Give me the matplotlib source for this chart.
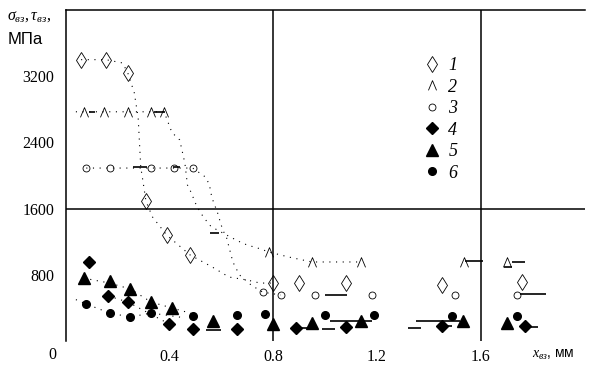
import numpy as np
import matplotlib.pyplot as plt
from matplotlib.path import Path

plt.rcParams['mathtext.fontset'] = 'custom'
plt.rcParams['mathtext.rm'] = 'Liberation Serif'
plt.rcParams['mathtext.it'] = 'Liberation Serif:italic'

# --- серия 1-3 (светлые маркеры): точки и пунктирные кривые ---
s1_x = [0.06, 0.155, 0.24, 0.31, 0.39, 0.48, 0.80, 0.90, 1.08, 1.45, 1.76]
s1_y = [3400, 3400, 3240, 1690, 1280, 1040, 700, 700, 700, 680, 715]
c1_x = [0.06, 0.155, 0.22, 0.24, 0.265, 0.28, 0.285, 0.29, 0.30, 0.31, 0.335, 0.39, 0.48, 0.565, 0.63, 0.70, 0.75, 0.80]
c1_y = [3400, 3400, 3360, 3240, 3000, 2700, 2400, 2100, 1900, 1690, 1500, 1280, 1040, 895, 773, 737, 700, 700]

s2_x = [0.07, 0.15, 0.24, 0.33, 0.38, 0.785, 0.95, 1.14, 1.535, 1.70]
s2_y = [2770, 2770, 2770, 2770, 2770, 1075, 955, 955, 955, 955]
c2_x = [0.04, 0.38, 0.41, 0.44, 0.46, 0.47, 0.485, 0.50, 0.52, 0.555, 0.585, 0.665, 0.70, 0.74, 0.785, 0.86, 0.95, 1.14]
c2_y = [2770, 2770, 2520, 2430, 2150, 1885, 1790, 1670, 1550, 1400, 1340, 1208, 1160, 1124, 1075, 1015, 955, 955]

s3_x = [0.08, 0.17, 0.33, 0.42, 0.49, 0.76, 0.83, 0.96, 1.18, 1.50, 1.74]
s3_y = [2090, 2090, 2090, 2090, 2090, 590, 556, 556, 556, 556, 556]
c3_x = [0.08, 0.49, 0.54, 0.555, 0.56, 0.57, 0.585, 0.60, 0.61, 0.62, 0.645, 0.67, 0.715, 0.76, 0.83]
c3_y = [2090, 2090, 1980, 1885, 1790, 1680, 1560, 1400, 1317, 1257, 955, 800, 677, 590, 556]

# --- серия 4-6 (тёмные маркеры) ---
s4_x = [0.09, 0.165, 0.24, 0.40, 0.49, 0.66, 0.89, 1.08, 1.45, 1.77]
s4_y = [955, 544, 471, 205, 145, 145, 157, 169, 181, 181]
s5_x = [0.07, 0.17, 0.25, 0.33, 0.41, 0.57, 0.80, 0.95, 1.14, 1.53, 1.70]
s5_y = [760, 725, 628, 471, 399, 242, 205, 218, 242, 242, 218]
s6_x = [0.08, 0.17, 0.25, 0.33, 0.49, 0.66, 0.77, 1.00, 1.19, 1.49, 1.74]
s6_y = [447, 338, 290, 338, 302, 314, 326, 314, 314, 302, 302]
c4_x = [0.165, 0.24, 0.40]
c4_y = [544, 471, 205]
c5_x = [0.07, 0.17, 0.25, 0.33, 0.41, 0.50]
c5_y = [760, 700, 628, 471, 399, 320]
c6_x = [0.04, 0.08, 0.17, 0.25, 0.33, 0.46]
c6_y = [500, 447, 338, 290, 338, 280]

# короткие сплошные штрихи (остатки линий на оригинале)
seg_x0 = [0.09, 0.34, 0.26, 0.415, 0.555, 0.54, 0.90, 0.99, 1.02, 1.00, 1.32, 1.35, 1.54, 1.72, 1.69, 1.75, 1.45, 1.79]
seg_x1 = [0.115, 0.385, 0.315, 0.44, 0.59, 0.60, 0.93, 1.04, 1.18, 1.085, 1.37, 1.52, 1.61, 1.77, 1.72, 1.85, 1.49, 1.82]
seg_y = [2770, 2770, 2100, 2100, 1305, 135, 157, 145, 242, 556, 157, 242, 967, 955, 894, 568, 181, 169]

x_ticks = [0.4, 0.8, 1.2, 1.6]
y_ticks = [800, 1600, 2400, 3200]
x_grid = [0.8, 1.6]
y_grid = [1600]
labels = ['1', '2', '3', '4', '5', '6']

caret = Path([(-1, -1.2), (0, 1.2), (1, -1.2)], [Path.MOVETO, Path.LINETO, Path.LINETO])

fig = plt.figure(figsize=(5.97, 3.73), dpi=100)
ax = fig.add_axes([65.5 / 597, 1 - 341 / 373, 519 / 597, 331 / 373])
ax.set_xlim(0, 2.0)
ax.set_ylim(0, 4000)

for s in ['right', 'bottom']:
    ax.spines[s].set_visible(False)
for s in ['left', 'top']:
    ax.spines[s].set_linewidth(1.1)
for v in x_grid:
    ax.axvline(v, color='k', lw=1.1)
for v in y_grid:
    ax.axhline(v, color='k', lw=1.1)

dot = (0, (1, 5))
for cx, cy in [(c1_x, c1_y), (c2_x, c2_y), (c3_x, c3_y), (c4_x, c4_y), (c5_x, c5_y), (c6_x, c6_y)]:
    ax.plot(cx, cy, color='k', lw=0.8, linestyle=dot)

ax.hlines(seg_y, seg_x0, seg_x1, color='k', lw=1.2)

ax.plot(s1_x, s1_y, 'd', ms=8, mfc='none', mec='k', mew=0.6, ls='none', label=labels[0])
ax.plot(s2_x, s2_y, marker=caret, ms=7, mfc='none', mec='k', mew=0.6, ls='none', label=labels[1])
ax.plot(s3_x, s3_y, 'o', ms=5, mfc='none', mec='k', mew=0.6, ls='none', label=labels[2])
ax.plot(s4_x, s4_y, 'D', ms=6.5, color='k', ls='none', label=labels[3])
ax.plot(s5_x, s5_y, '^', ms=8, color='k', ls='none', label=labels[4])
ax.plot(s6_x, s6_y, 'o', ms=5.5, color='k', ls='none', label=labels[5])

ax.set_xticks(x_ticks)
ax.set_xticklabels([f'{v:g}' for v in x_ticks])
ax.set_yticks(y_ticks)
ax.set_yticklabels([str(v) for v in y_ticks])
ax.tick_params(length=0, labelsize=11.5)
ax.tick_params(axis='y', pad=8)
ax.tick_params(axis='x', pad=6)
for t in ax.get_xticklabels() + ax.get_yticklabels():
    t.set_fontfamily('Liberation Serif')

ax.annotate('0', xy=(0, 0), xycoords='axes fraction', xytext=(-13.5, -14),
            textcoords='offset pixels', ha='center', va='center',
            fontsize=11.5, family='Liberation Serif')
ax.annotate(r'$x_{вз}$' + ', мм', xy=(1, 0), xycoords='axes fraction', xytext=(-31, -14),
            textcoords='offset pixels', ha='center', va='center',
            fontsize=10, family='Liberation Sans')
fig.text(7 / 597, 1 - 16 / 373, r'$\sigma_{вз}, \tau_{вз},$', fontsize=11.5,
         ha='left', va='center')
fig.text(8 / 597, 1 - 39 / 373, 'МПа', fontsize=12, family='Liberation Sans',
         ha='left', va='center')

leg = ax.legend(loc='upper left', bbox_to_anchor=(414 / 597, 1 - 48 / 373),
                bbox_transform=fig.transFigure, frameon=False, handlelength=1.0,
                handletextpad=0.4, labelspacing=0.25, borderpad=0,
                prop={'family': 'Liberation Serif', 'style': 'italic', 'size': 13})

fig.savefig('out.png', dpi=100)
